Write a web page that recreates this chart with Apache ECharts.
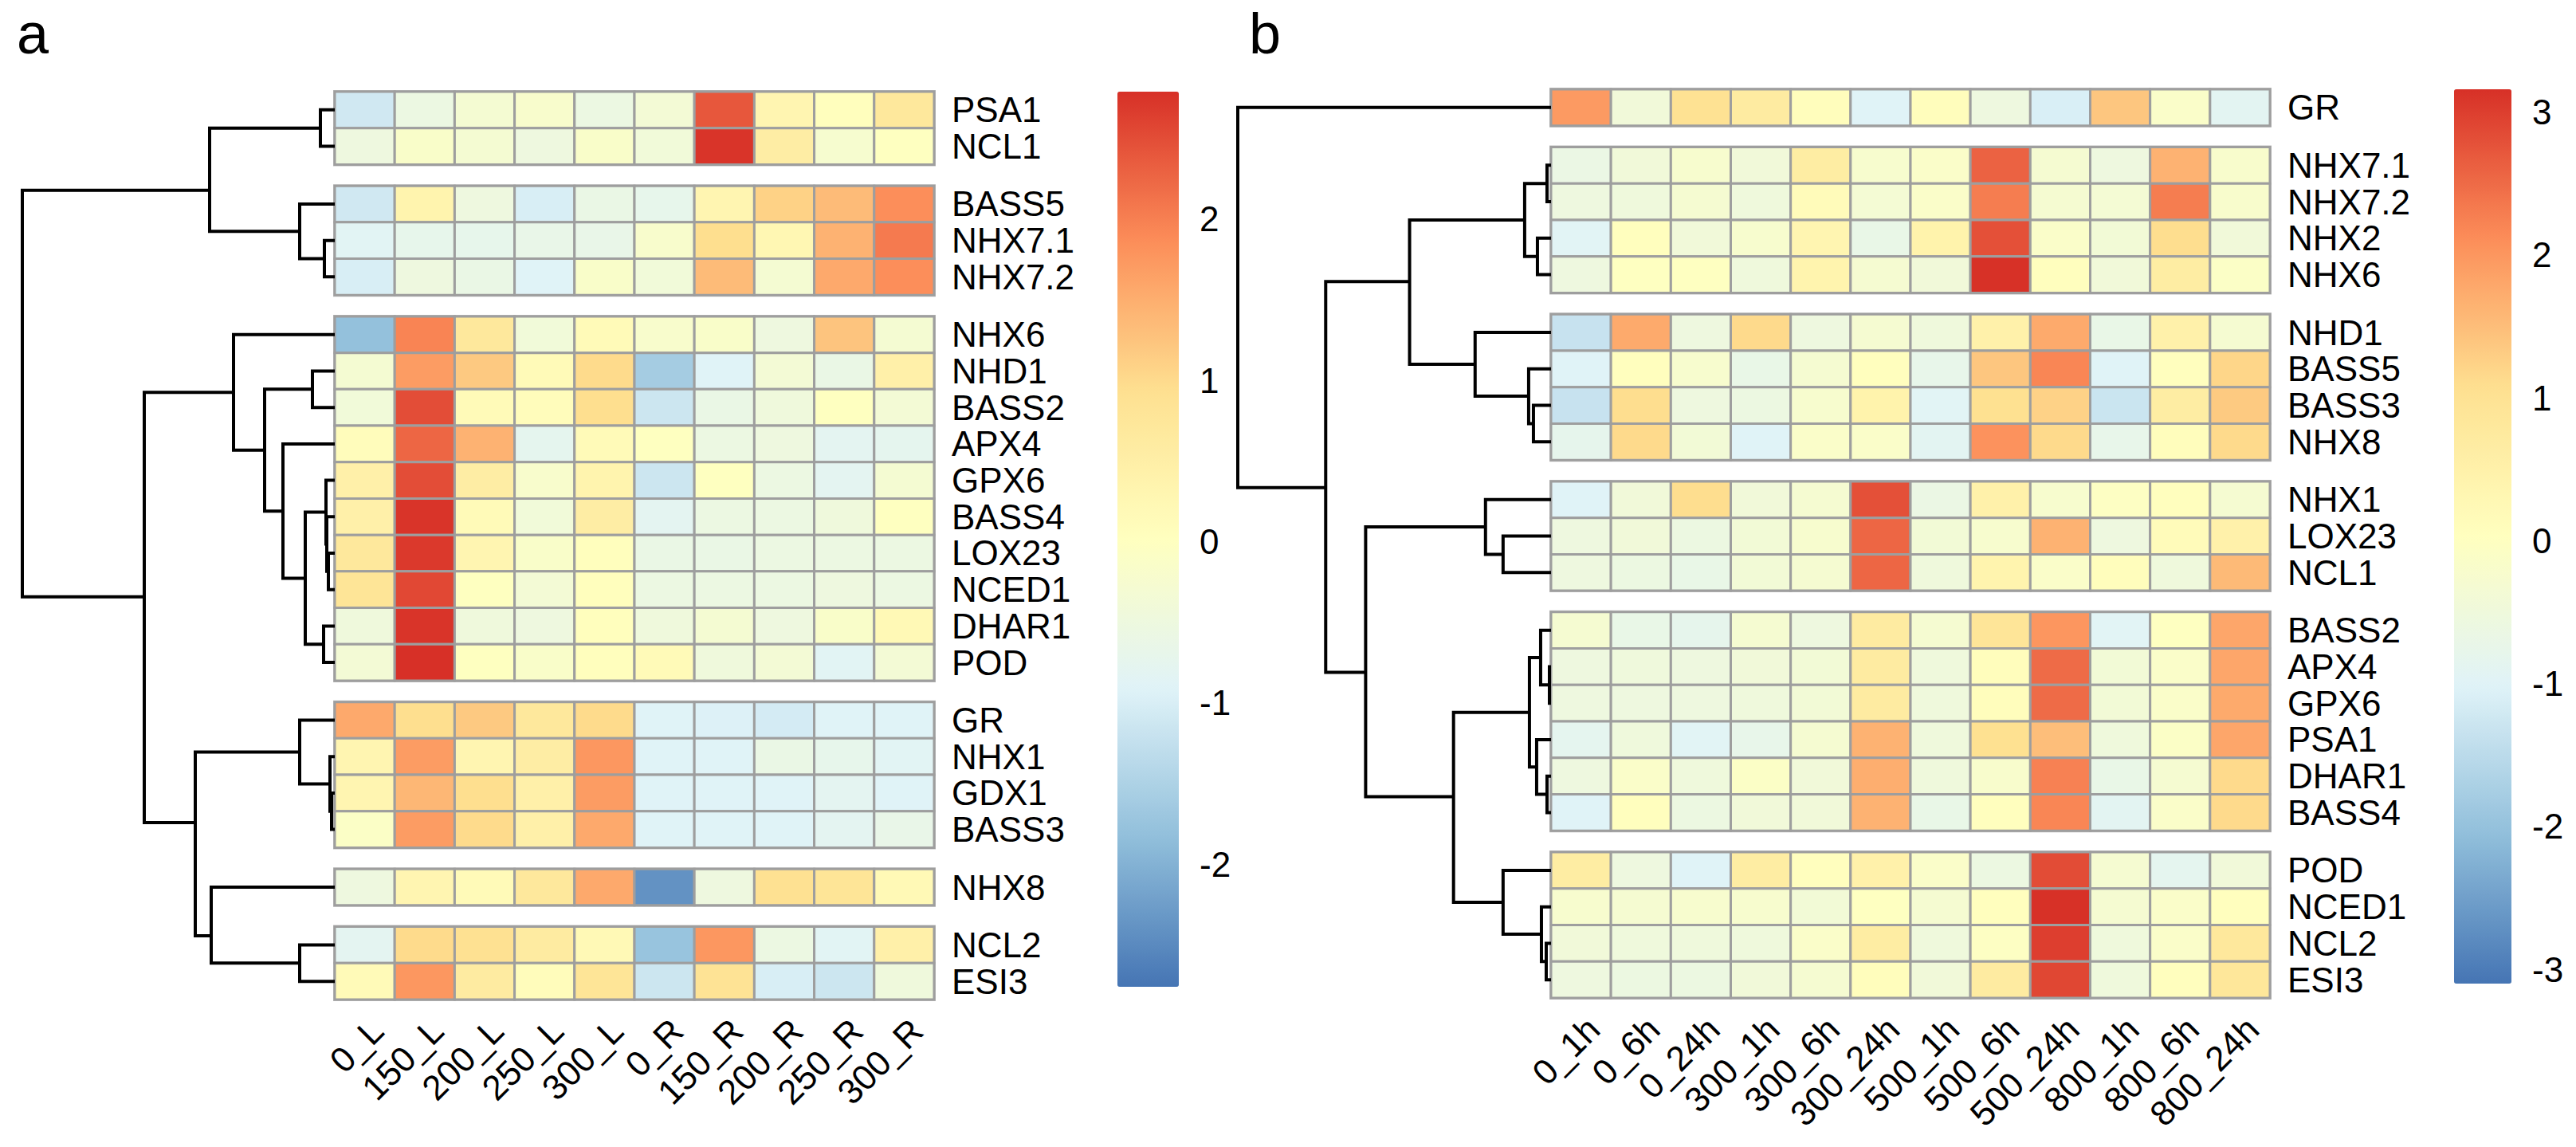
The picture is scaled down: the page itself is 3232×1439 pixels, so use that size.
<!DOCTYPE html>
<html><head><meta charset="utf-8">
<script src="https://cdn.jsdelivr.net/npm/echarts@6/dist/echarts.min.js"></script>
<style>html,body{margin:0;padding:0;background:#fff}#c{width:3232px;height:1439px}</style>
</head><body><div id="c"></div>
<script>
// ---------------- Panel a data ----------------
const colsA = ['0_L','150_L','200_L','250_L','300_L','0_R','150_R','200_R','250_R','300_R'];
const rowsA = ['PSA1','NCL1','BASS5','NHX7.1','NHX7.2','NHX6','NHD1','BASS2','APX4','GPX6','BASS4','LOX23','NCED1','DHAR1','POD','GR','NHX1','GDX1','BASS3','NHX8','NCL2','ESI3'];
const valuesA = [
  [-1.1,-0.55,-0.3,-0.2,-0.55,-0.35,2.4,0.3,0.05,0.7],
  [-0.5,-0.15,-0.3,-0.5,-0.15,-0.4,2.75,0.55,-0.25,0.0],
  [-1.1,0.35,-0.5,-1.0,-0.6,-0.7,0.3,1.1,1.35,1.85],
  [-0.85,-0.7,-0.7,-0.65,-0.65,-0.2,0.95,0.25,1.45,2.05],
  [-1.0,-0.5,-0.6,-0.9,-0.15,-0.4,1.35,-0.3,1.55,1.85],
  [-1.8,1.95,0.7,-0.4,0.15,-0.2,-0.15,-0.5,1.25,-0.3],
  [-0.3,1.7,1.2,0.15,1.0,-1.6,-0.9,-0.35,-0.6,0.45],
  [-0.4,2.5,0.15,0.1,0.95,-1.15,-0.6,-0.45,0.0,-0.35],
  [0.1,2.25,1.45,-0.75,0.15,0.0,-0.55,-0.5,-0.8,-0.75],
  [0.45,2.5,0.55,-0.2,0.35,-1.15,0.0,-0.55,-0.8,-0.3],
  [0.45,2.75,0.15,-0.4,0.55,-0.8,-0.55,-0.55,-0.45,0.0],
  [0.7,2.7,0.3,-0.15,0.05,-0.6,-0.6,-0.55,-0.55,-0.55],
  [0.8,2.55,0.0,-0.35,0.05,-0.55,-0.55,-0.55,-0.5,-0.55],
  [-0.45,2.75,-0.45,-0.5,0.05,-0.45,-0.3,-0.5,-0.15,0.2],
  [-0.35,2.79,0.0,-0.15,0.05,0.15,-0.45,-0.35,-0.85,-0.35],
  [1.55,0.95,1.2,0.7,1.0,-0.9,-0.95,-1.05,-0.9,-0.9],
  [0.3,1.7,0.3,0.55,1.75,-0.9,-0.9,-0.6,-0.7,-0.85],
  [0.3,1.4,0.95,0.45,1.7,-0.9,-0.9,-0.9,-0.8,-0.9],
  [-0.1,1.7,1.0,0.45,1.55,-0.9,-0.9,-0.9,-0.8,-0.65],
  [-0.5,0.3,0.15,0.7,1.55,-2.4,-0.5,0.9,0.8,0.2],
  [-0.8,1.0,0.9,0.6,0.2,-1.75,1.75,-0.55,-0.85,0.45],
  [0.15,1.75,0.6,0.1,0.8,-1.15,0.85,-1.0,-1.15,-0.45]
];
const gapsA = [2,5,15,19,20];
// merges: [left, right, height]; strings = leaves, numbers = earlier merges
const treeA = [
  ['PSA1','NCL1',18], ['NHX7.1','NHX7.2',13], ['BASS5',1,44], [0,2,157],
  ['NHD1','BASS2',28], ['LOX23','NCED1',8], ['BASS4',5,10], ['GPX6',6,11],
  ['DHAR1','POD',14], [7,8,37], ['APX4',9,65], [4,10,88], ['NHX6',11,127],
  ['GDX1','BASS3',4], ['NHX1',13,6], ['GR',14,44], ['NCL2','ESI3',44],
  ['NHX8',16,155], [15,17,175], [12,18,239], [3,19,392]
];
const rangeA = [-2.76, 2.79];
const ticksA = [-2,-1,0,1,2];

// ---------------- Panel b data ----------------
const colsB = ['0_1h','0_6h','0_24h','300_1h','300_6h','300_24h','500_1h','500_6h','500_24h','800_1h','800_6h','800_24h'];
const rowsB = ['GR','NHX7.1','NHX7.2','NHX2','NHX6','NHD1','BASS5','BASS3','NHX8','NHX1','LOX23','NCL1','BASS2','APX4','GPX6','PSA1','DHAR1','BASS4','POD','NCED1','NCL2','ESI3'];
const valuesB = [
  [1.95,-0.45,1.0,0.7,0.1,-1.0,0.1,-0.55,-1.1,1.4,-0.15,-0.9],
  [-0.65,-0.45,-0.25,-0.45,0.65,-0.25,-0.15,2.6,-0.3,-0.55,1.65,-0.2],
  [-0.55,-0.5,-0.3,-0.5,0.15,-0.35,-0.15,2.3,-0.3,-0.35,2.3,-0.2],
  [-0.95,0.05,-0.45,-0.25,0.35,-0.7,0.45,2.8,-0.15,-0.4,1.1,-0.45],
  [-0.55,0.0,0.0,-0.5,0.4,-0.3,-0.45,3.15,0.05,-0.45,0.65,-0.1],
  [-1.35,1.75,-0.55,1.15,-0.55,-0.3,-0.5,0.5,1.75,-0.7,0.5,-0.3],
  [-1.0,0.05,-0.25,-0.7,-0.3,0.05,-0.75,1.4,2.2,-1.0,0.05,1.2],
  [-1.35,1.1,-0.55,-0.6,-0.25,0.45,-0.95,1.05,1.25,-1.3,0.65,1.35],
  [-0.8,1.15,-0.4,-1.0,-0.15,-0.15,-0.9,2.05,1.15,-0.75,0.1,1.15],
  [-1.0,-0.45,1.1,-0.45,-0.3,2.8,-0.65,0.5,-0.25,-0.05,0.05,-0.3],
  [-0.55,-0.45,-0.6,-0.4,-0.25,2.55,-0.4,-0.25,1.65,-0.55,0.15,0.5],
  [-0.55,-0.6,-0.7,-0.4,-0.3,2.55,-0.5,0.4,-0.15,0.1,-0.5,1.55],
  [-0.3,-0.7,-0.8,-0.3,-0.55,0.7,-0.3,0.9,2.0,-0.95,0.0,1.8],
  [-0.55,-0.5,-0.55,-0.45,-0.4,0.7,-0.5,0.1,2.5,-0.4,-0.15,1.8],
  [-0.55,-0.55,-0.55,-0.5,-0.4,0.7,-0.5,0.1,2.5,-0.4,-0.15,1.75],
  [-0.85,-0.5,-0.95,-0.75,-0.3,1.65,-0.5,1.05,1.5,-0.5,-0.1,1.8],
  [-0.55,-0.15,-0.5,-0.1,-0.45,1.7,-0.5,-0.2,2.25,-0.7,-0.3,1.15],
  [-1.0,0.05,-0.6,-0.45,-0.45,1.65,-0.7,0.05,2.2,-0.9,-0.15,1.15],
  [0.65,-0.55,-1.0,0.65,0.05,0.5,-0.15,-0.6,2.85,-0.3,-0.85,-0.45],
  [-0.25,-0.3,-0.25,-0.25,-0.4,0.0,-0.3,0.05,3.15,-0.3,-0.15,0.05],
  [-0.45,-0.5,-0.5,-0.5,-0.15,0.65,-0.5,-0.05,3.0,-0.5,-0.15,0.8],
  [-0.55,-0.6,-0.6,-0.45,-0.3,0.1,-0.45,0.7,2.9,-0.5,0.05,0.85]
];
const gapsB = [1,5,9,12,18];
const treeB = [
  ['NHX7.1','NHX7.2',5], ['NHX2','NHX6',17], [0,1,33], ['BASS3','NHX8',22],
  ['BASS5',3,28], ['NHD1',4,95], [2,5,177], ['LOX23','NCL1',60], ['NHX1',7,82],
  ['APX4','GPX6',2], ['BASS2',9,13], ['DHAR1','BASS4',5], ['PSA1',11,18], [10,12,27],
  ['NCL2','ESI3',6], ['NCED1',14,12], ['POD',15,60], [13,16,122], [8,17,232],
  [6,18,282], ['GR',19,392]
];
const rangeB = [-3.10, 3.16];
const ticksB = [-3,-2,-1,0,1,2,3];

const palette = ['#4575B4','#91BFDB','#E0F3F8','#FFFFBF','#FEE090','#FC8D59','#D73027'];

// ---------------- layout / style (not data) ----------------
const FONT = 'Liberation Sans, Arial, Helvetica, sans-serif';
const GAP = 0.585;   // gap between row blocks, in row units
const FS = 44;

const panels = [
  {tag:'a', cols:colsA, rows:rowsA, values:valuesA, gaps:gapsA, tree:treeA, range:rangeA, ticks:ticksA,
   hm:{left:420, top:115, width:752, height:1139}, dendroLeft:28,
   bar:{left:1402, top:115, width:77, height:1123}, titleLeft:21},
  {tag:'b', cols:colsB, rows:rowsB, values:valuesB, gaps:gapsB, tree:treeB, range:rangeB, ticks:ticksB,
   hm:{left:1946, top:112, width:902, height:1140}, dendroLeft:1553,
   bar:{left:3079, top:112, width:72, height:1122}, titleLeft:1567}
];

function mapPos(m, gaps){ return m + GAP * gaps.filter(g => m > g).length; }

const option = {
  animation:false, backgroundColor:'#fff',
  title:[], grid:[], xAxis:[], yAxis:[], series:[], visualMap:[]
};

panels.forEach(p => {
  const n = p.rows.length;
  const total = n + GAP * p.gaps.length;
  const gi = option.grid.length;

  // grids: heatmap, dendrogram, colour-bar axis
  option.grid.push({left:p.hm.left, top:p.hm.top, width:p.hm.width, height:p.hm.height, containLabel:false});
  option.grid.push({left:p.dendroLeft, top:p.hm.top, width:p.hm.left - p.dendroLeft, height:p.hm.height, containLabel:false});
  option.grid.push({left:p.bar.left, top:p.bar.top, width:p.bar.width, height:p.bar.height, containLabel:false});

  const centers = p.rows.map((r,i) => mapPos(i + 0.5, p.gaps));
  const labelMap = {};
  centers.forEach((c,i) => { labelMap[c.toFixed(4)] = p.rows[i]; });

  const hidden = {axisLine:{show:false}, axisTick:{show:false}, splitLine:{show:false}};
  // heatmap axes
  option.xAxis.push(Object.assign({type:'category', gridIndex:gi, data:p.cols, position:'bottom',
    axisLabel:{rotate:45, interval:0, fontSize:FS, fontFamily:FONT, color:'#000', margin:16,
      align:'right', verticalAlign:'top'}}, hidden));
  option.yAxis.push(Object.assign({type:'value', gridIndex:gi, min:0, max:total, inverse:true, position:'right',
    axisLabel:{customValues:centers, fontSize:FS, fontFamily:FONT, color:'#000', margin:22,
      formatter: v => labelMap[Number(v).toFixed(4)] || ''}}, hidden));
  // dendrogram axes
  const rootH = Math.max(...p.tree.map(t => t[2]));
  option.xAxis.push({type:'value', gridIndex:gi+1, min:0, max:rootH, inverse:true, show:false});
  option.yAxis.push({type:'value', gridIndex:gi+1, min:0, max:total, inverse:true, show:false});
  // colour bar axis
  option.xAxis.push({type:'value', gridIndex:gi+2, min:0, max:1, show:false});
  option.yAxis.push(Object.assign({type:'value', gridIndex:gi+2, min:p.range[0], max:p.range[1], position:'right',
    axisLabel:{customValues:p.ticks, fontSize:FS, fontFamily:FONT, color:'#000', margin:26}}, hidden));

  // block outlines
  const bounds = [0, ...p.gaps, n];
  const blocks = [];
  for (let k = 0; k < bounds.length - 1; k++) blocks.push([bounds[k] + GAP*k, bounds[k+1] + GAP*k]);
  option.series.push({type:'custom', xAxisIndex:gi, yAxisIndex:gi, z:1, silent:true,
    data:blocks, encode:{y:[0,1]},
    renderItem:(params, api) => {
      const cs = params.coordSys;
      const y0 = api.coord([0, api.value(0)])[1], y1 = api.coord([0, api.value(1)])[1];
      return {type:'rect', shape:{x:cs.x - 2, y:y0 - 2, width:cs.width + 4, height:y1 - y0 + 4},
        style:{fill:'#BDBDBD', stroke:null}};
    }});

  // heatmap cells
  const cells = [];
  p.values.forEach((row, r) => row.forEach((v, c) => cells.push([c, centers[r], v])));
  const cellIdx = option.series.length;
  option.series.push({type:'custom', xAxisIndex:gi, yAxisIndex:gi, z:2, silent:true,
    data:cells, encode:{x:0, y:1},
    renderItem:(params, api) => {
      const pt = api.coord([api.value(0), api.value(1)]);
      const s = api.size([1, 1]);
      return {type:'rect', shape:{x:pt[0] - s[0]/2, y:pt[1] - s[1]/2, width:s[0], height:s[1]},
        style:{fill:api.visual('color'), stroke:'#9E9E9E', lineWidth:3}};
    }});

  // dendrogram segments (pheatmap style: midpoints in gapless space, then shifted by gaps)
  const pos = [], hgt = [];
  const gp = ref => typeof ref === 'string' ? p.rows.indexOf(ref) + 0.5 : pos[ref];
  const gh = ref => typeof ref === 'string' ? 0 : hgt[ref];
  const segs = p.tree.map(([a, b, h], i) => {
    const pa = gp(a), pb = gp(b);
    pos[i] = (pa + pb) / 2; hgt[i] = h;
    return [h, mapPos(pa, p.gaps), mapPos(pb, p.gaps), gh(a), gh(b)];
  });
  option.series.push({type:'custom', xAxisIndex:gi+1, yAxisIndex:gi+1, z:3, silent:true,
    data:segs, encode:{x:[0,3,4], y:[1,2]},
    renderItem:(params, api) => {
      const h = api.value(0), ya = api.value(1), yb = api.value(2), ha = api.value(3), hb = api.value(4);
      const pts = [api.coord([ha, ya]), api.coord([h, ya]), api.coord([h, yb]), api.coord([hb, yb])];
      return {type:'polyline', shape:{points:pts},
        style:{stroke:'#000', lineWidth:4, fill:null, lineJoin:'miter', lineCap:'butt'}};
    }});

  // colour scale (drawn by visualMap)
  option.visualMap.push({type:'continuous', seriesIndex:cellIdx, dimension:2,
    min:p.range[0], max:p.range[1], inRange:{color:palette},
    orient:'vertical', left:p.bar.left, top:p.bar.top, itemWidth:p.bar.width, itemHeight:p.bar.height,
    calculable:false, padding:0, hoverLink:false, showLabel:false});

  option.title.push({text:p.tag, left:p.titleLeft, top:6, padding:0,
    textStyle:{fontSize:72, lineHeight:72, fontWeight:'normal', fontFamily:FONT, color:'#000'}});
});

const chart = echarts.init(document.getElementById('c'), null, {renderer:'svg'});
chart.setOption(option);
</script></body></html>
